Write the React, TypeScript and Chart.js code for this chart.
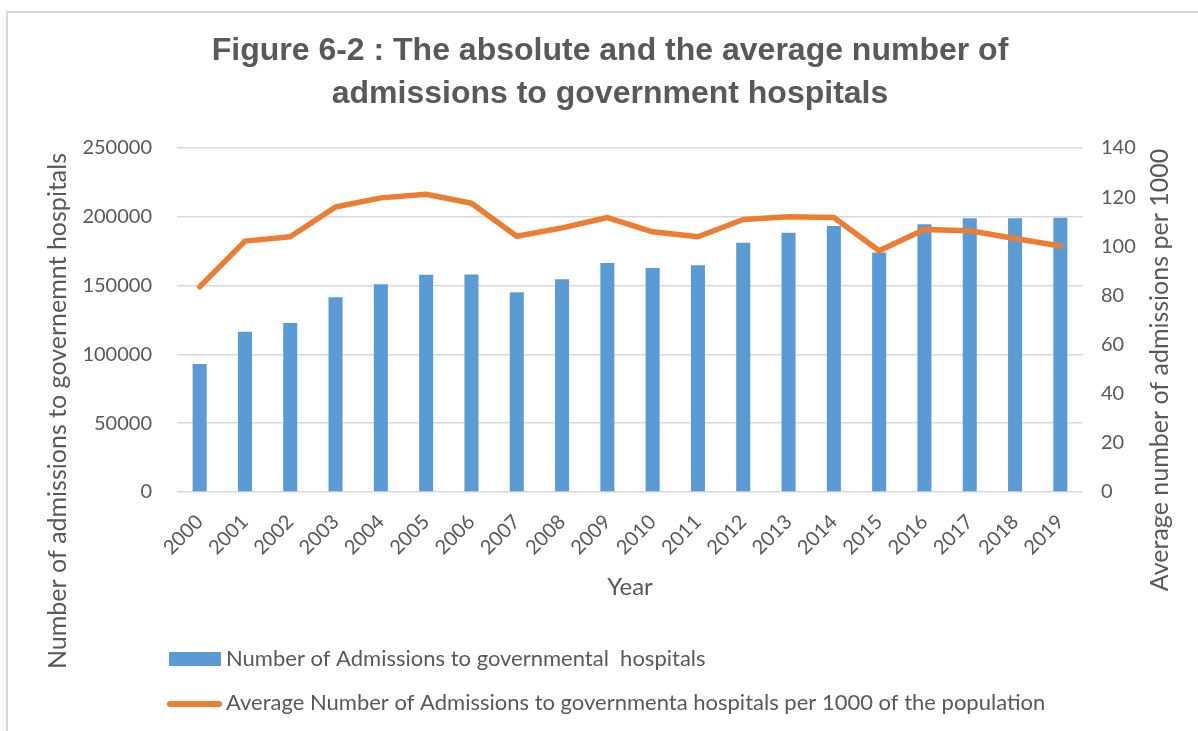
import React, { useEffect, useRef } from "react";
import { Chart, registerables } from "chart.js";

Chart.register(...registerables);

// ---------- data ----------
const years = [
  "2000", "2001", "2002", "2003", "2004", "2005", "2006", "2007", "2008", "2009",
  "2010", "2011", "2012", "2013", "2014", "2015", "2016", "2017", "2018", "2019",
];
const admissions = [
  93000, 116500, 122800, 141500, 150900, 157900, 158100, 145100, 154700, 166500,
  162700, 164700, 181100, 188400, 193400, 174100, 194600, 199000, 199000, 199300,
];
const avgPer1000 = [
  83.5, 102.1, 103.9, 116.0, 119.7, 121.2, 117.5, 104.1, 107.5, 111.7,
  105.9, 103.9, 110.9, 112.0, 111.7, 98.2, 106.8, 106.3, 103.2, 100.1,
];
const leftAxisRange = [0, 250000, 50000];
const rightAxisRange = [0, 140, 20];
const titleLines = [
  "Figure 6-2 : The absolute and the average number of",
  "admissions to government hospitals",
];
const barLabel = "Number of Admissions to governmental  hospitals";
const lineLabel =
  "Average Number of Admissions to governmenta hospitals per 1000 of the population";
const xTitle = "Year";
const yLeftTitle = "Number of admissions to governemnt hospitals";
const yRightTitle = "Average number of admissions per 1000";

// ---------- style ----------
const BAR_COLOR = "#5B9BD5";
const LINE_COLOR = "#ED7D31";
const TEXT = "#595959";
const GRID = "#d9d9d9";
const SANS = "Lato, 'Open Sans', sans-serif";

const decorPlugin = {
  id: "decor",
  beforeDraw(chart: any) {
    const ctx = chart.ctx;
    ctx.save();
    ctx.fillStyle = "#ffffff";
    ctx.fillRect(0, 0, chart.width, chart.height);
    ctx.strokeStyle = GRID;
    ctx.lineWidth = 2;
    ctx.strokeRect(7, 12, chart.width + 20, chart.height + 20);
    ctx.restore();
  },
  afterDraw(chart: any) {
    const ctx = chart.ctx;
    ctx.save();
    ctx.fillStyle = TEXT;
    ctx.textAlign = "center";
    ctx.textBaseline = "alphabetic";
    ctx.font = `25px ${SANS}`;
    // left axis title
    ctx.save();
    ctx.translate(66, 411);
    ctx.rotate(-Math.PI / 2);
    ctx.fillText(yLeftTitle, 0, 0);
    ctx.restore();
    // right axis title
    ctx.save();
    ctx.translate(1168, 370);
    ctx.rotate(-Math.PI / 2);
    ctx.fillText(yRightTitle, 0, 0);
    ctx.restore();

    // legend
    const ds = chart.data.datasets;
    const bar = ds.find((d: any) => d.type === "bar");
    const line = ds.find((d: any) => d.type === "line");
    ctx.font = `22px ${SANS}`;
    ctx.textAlign = "left";
    // bar item
    ctx.fillStyle = bar.backgroundColor;
    ctx.fillRect(169, 652, 52, 14);
    ctx.fillStyle = TEXT;
    ctx.fillText(bar.label, 226, 666);
    // line item
    ctx.strokeStyle = line.borderColor;
    ctx.lineWidth = 6;
    ctx.lineCap = "round";
    ctx.beginPath();
    ctx.moveTo(170, 704);
    ctx.lineTo(219, 704);
    ctx.stroke();
    ctx.fillStyle = TEXT;
    ctx.fillText(line.label, 226, 710);
    ctx.restore();
  },
};

export default function App() {
  const ref = useRef<HTMLCanvasElement | null>(null);

  useEffect(() => {
    if (!ref.current) return;
    const chart = new Chart(ref.current, {
      data: {
        labels: years,
        datasets: [
          {
            type: "line",
            label: lineLabel,
            data: avgPer1000,
            yAxisID: "yRight",
            borderColor: LINE_COLOR,
            backgroundColor: LINE_COLOR,
            borderWidth: 5.5,
            pointRadius: 0,
            pointHoverRadius: 0,
            tension: 0,
            borderJoinStyle: "round",
            borderCapStyle: "round",
            order: 0,
          },
          {
            type: "bar",
            label: barLabel,
            data: admissions,
            yAxisID: "yLeft",
            backgroundColor: BAR_COLOR,
            borderWidth: 0,
            categoryPercentage: 1,
            barPercentage: 0.31,
            order: 1,
          },
        ],
      } as any,
      options: {
        responsive: false,
        maintainAspectRatio: false,
        animation: false,
        devicePixelRatio: 1,
        layout: { padding: { left: 22, right: 0, top: 0, bottom: 119 } },
        plugins: {
          legend: { display: false },
          tooltip: { enabled: false },
          title: {
            display: true,
            text: titleLines,
            color: TEXT,
            font: {
              family: "'Liberation Sans', Arial, sans-serif",
              weight: "bold",
              size: 32,
              lineHeight: 43 / 32,
            },
            padding: { top: 30, bottom: 32 },
          },
        },
        scales: {
          x: {
            type: "category",
            offset: true,
            grid: { display: false },
            border: { display: false },
            ticks: {
              color: TEXT,
              font: { family: SANS, size: 20 },
              minRotation: 45,
              maxRotation: 45,
              autoSkip: false,
              padding: 10,
            },
            title: {
              display: true,
              text: xTitle,
              color: TEXT,
              font: { family: SANS, size: 24 },
              padding: { top: 0, bottom: 10 },
            },
            afterFit: (s: any) => {
              s.height = 120;
            },
          },
          yLeft: {
            type: "linear",
            position: "left",
            min: leftAxisRange[0],
            max: leftAxisRange[1],
            ticks: {
              stepSize: leftAxisRange[2],
              color: TEXT,
              font: { family: SANS, size: 20 },
              padding: 25,
              callback: (v: any) => String(v),
            },
            grid: { color: GRID, lineWidth: 1.5, drawTicks: false },
            border: { display: false },
            afterFit: (s: any) => {
              s.width = 155;
            },
          },
          yRight: {
            type: "linear",
            position: "right",
            min: rightAxisRange[0],
            max: rightAxisRange[1],
            ticks: {
              stepSize: rightAxisRange[2],
              color: TEXT,
              font: { family: SANS, size: 20 },
              padding: 18,
              callback: (v: any) => String(v),
            },
            grid: { display: false, drawTicks: false },
            border: { display: false },
            afterFit: (s: any) => {
              s.width = 115;
            },
          },
        },
      } as any,
      plugins: [decorPlugin],
    });
    return () => chart.destroy();
  }, []);

  return (
    <div
      style={{
        position: "absolute",
        left: 0,
        top: 0,
        width: 1198,
        height: 731,
        background: "#fff",
        overflow: "hidden",
      }}
    >
      <canvas ref={ref} width={1198} height={731} style={{ display: "block" }} />
    </div>
  );
}
